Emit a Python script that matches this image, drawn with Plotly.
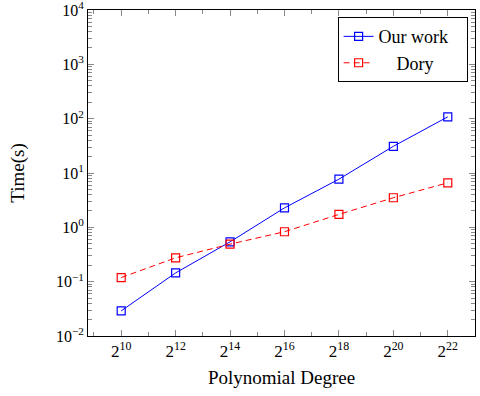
import plotly.graph_objects as go
import math

exponents = [10, 12, 14, 16, 18, 20, 22]
degrees = [2 ** e for e in exponents]
tick_labels = ["2<sup>%d</sup>" % e for e in exponents]
our_work = [0.029, 0.145, 0.54, 2.28, 7.7, 31, 108]
dory = [0.119, 0.275, 0.49, 0.83, 1.73, 3.5, 6.6]
y_powers = [-2, -1, 0, 1, 2, 3, 4]
y_labels = ["10<sup>%d</sup>" % k if k >= 0 else "10<sup>\u2212%d</sup>" % (-k) for k in y_powers]

FONT = "Liberation Serif"
NB = "\u00a0"

fig = go.Figure()
fig.add_trace(go.Scatter(
    x=degrees, y=our_work, name="Our work" + NB * 3, mode="lines+markers",
    line=dict(color="#0000ff", width=1),
    marker=dict(symbol="square-open", size=8, color="#0000ff", line=dict(width=1.2)),
))
fig.add_trace(go.Scatter(
    x=degrees, y=dory, name=NB * 4 + "Dory", mode="lines+markers",
    line=dict(color="#ff0000", width=1, dash="6px,4px"),
    marker=dict(symbol="square-open", size=8, color="#ff0000", line=dict(width=1.2)),
))

minor_x = [2 ** e for e in range(9, 24, 2)]
minor_y = [m * 10 ** k for k in range(-2, 4) for m in range(2, 10)]

fig.update_layout(
    width=480, height=396,
    margin=dict(l=88, r=5, t=10, b=60),
    paper_bgcolor="white", plot_bgcolor="white",
    font=dict(family=FONT, size=15, color="black"),
    showlegend=True,
    legend=dict(
        x=0.645, y=0.978, xanchor="left", yanchor="top",
        bgcolor="white", bordercolor="black", borderwidth=1,
        font=dict(family=FONT, size=18), itemwidth=30,
        tracegroupgap=0,
    ),
    xaxis=dict(
        type="log", automargin=False,
        range=[8.78 * math.log10(2), 23.0 * math.log10(2)],
        tickmode="array", tickvals=degrees, ticktext=tick_labels,
        ticks="inside", ticklen=6, tickcolor="#888888", tickwidth=1,
        showline=True, linecolor="black", linewidth=1, mirror="allticks",
        showgrid=False, zeroline=False, ticklabeloverflow="allow",
        tickfont=dict(family=FONT, size=17),
        title=dict(text="Polynomial Degree", font=dict(family=FONT, size=19), standoff=10),
        minor=dict(tickmode="array", tickvals=minor_x, ticks="inside",
                   ticklen=4, tickcolor="#888888", tickwidth=1, showgrid=False),
    ),
    yaxis=dict(
        type="log", automargin=False,
        range=[-2, 4],
        tickmode="array", tickvals=[10 ** k for k in y_powers], ticktext=y_labels,
        ticks="inside", ticklen=6, tickcolor="#888888", tickwidth=1,
        showline=True, linecolor="black", linewidth=1, mirror="allticks",
        showgrid=False, zeroline=False, ticklabeloverflow="allow",
        tickfont=dict(family=FONT, size=16),
        title=dict(text="Time(s)", font=dict(family=FONT, size=19), standoff=26),
        minor=dict(tickmode="array", tickvals=minor_y, ticks="inside",
                   ticklen=4, tickcolor="#888888", tickwidth=1, showgrid=False),
    ),
)

fig.write_html("out.html", config={"displayModeBar": False},
               post_script="document.body.style.margin='0';document.body.style.padding='0';")
